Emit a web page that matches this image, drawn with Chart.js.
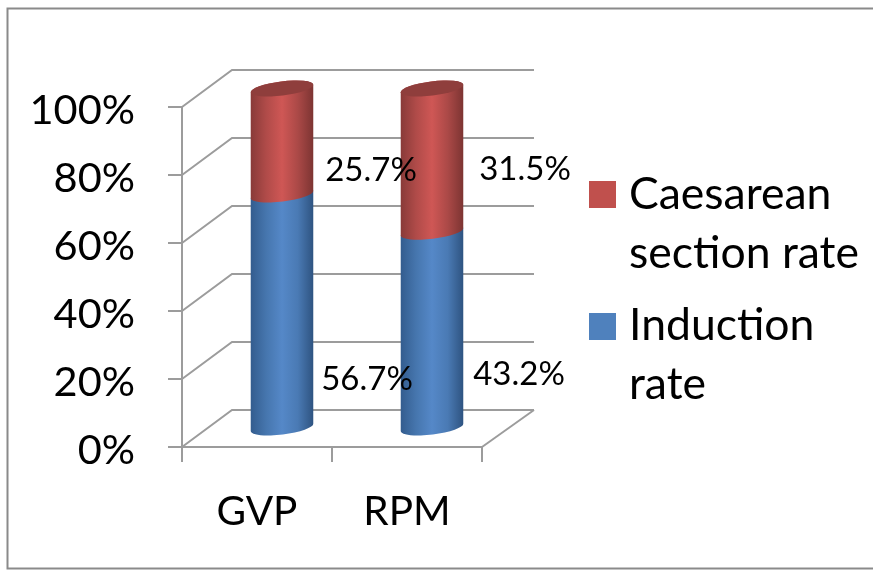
<!DOCTYPE html>
<html>
<head>
<meta charset="utf-8">
<script src="https://cdn.jsdelivr.net/npm/chart.js@4"></script>
<style>
  html, body { margin: 0; padding: 0; background: #fff; }
  #wrap { width: 873px; height: 570px; }
</style>
</head>
<body>
<div id="wrap"><canvas id="barChart"></canvas></div>
<script>
const categories = ['GVP', 'RPM']
const inductionRate = [56.7, 43.2]
const caesareanRate = [25.7, 31.5]
const yTicks = [0, 20, 40, 60, 80, 100]

// the chart is 100% stacked, so bar heights are each value's share of its column
const share = (a, b) => a.map((v, i) => v / (v + b[i]) * 100)

const FONT = 'Lato'
const DEPTH_X = 50
const DEPTH_Y = 37
const GRID = '#9c9c9c'

const blueStops = ['#335c8e', '#4676ae', '#5588c8', '#4a7ab4', '#2e5380']
const redStops = ['#883a38', '#b04b49', '#cf5755', '#ab4947', '#7c3432']

// bar centre -> label centre, the labels were placed by hand in the original
const labelOffsets = [
  [[110, 50], [112, 26]],
  [[114, 10], [118, -9]]
]

const legendRows = [
  { color: '#c0504d', lines: ['Caesarean', 'section rate'], box: 181, text: [195, 254] },
  { color: '#4f81bd', lines: ['Induction', 'rate'], box: 313, text: [326, 385] }
]

function cylinderGradient(ctx, x0, x1, stops) {
  const g = ctx.createLinearGradient(x0, 0, x1, 0)
  stops.forEach((c, i) => g.addColorStop(i / (stops.length - 1), c))
  return g
}

const cylinders = {
  id: 'cylinders',
  beforeDatasetsDraw(chart) {
    const { ctx, scales: { x, y } } = chart
    ctx.save()
    ctx.strokeStyle = GRID
    ctx.lineWidth = 2
    // side wall and back wall lines, one per y tick
    y.ticks.forEach(t => {
      const py = y.getPixelForValue(t.value)
      ctx.beginPath()
      ctx.moveTo(x.left, py)
      ctx.lineTo(x.left + DEPTH_X, py - DEPTH_Y)
      ctx.lineTo(x.right + DEPTH_X + 2, py - DEPTH_Y)
      ctx.stroke()
    })
    // floor edge on the right
    ctx.beginPath()
    ctx.moveTo(x.right, y.bottom)
    ctx.lineTo(x.right + DEPTH_X + 2, y.bottom - DEPTH_Y)
    ctx.stroke()
    ctx.restore()
  },
  afterDatasetsDraw(chart) {
    const { ctx } = chart
    const rot = -7 * Math.PI / 180
    const ry = 7
    chart.data.datasets.forEach((ds, d) => {
      chart.getDatasetMeta(d).data.forEach(bar => {
        const cx = bar.x + DEPTH_X / 2
        const rx = bar.width / 2
        const top = bar.y - DEPTH_Y / 2
        const bottom = bar.base - DEPTH_Y / 2
        ctx.save()
        ctx.fillStyle = cylinderGradient(ctx, cx - rx, cx + rx, ds.stops)
        ctx.beginPath()
        ctx.ellipse(cx, bottom, rx, ry, rot, Math.PI, 0, true)
        ctx.ellipse(cx, top, rx, ry, rot, 0, Math.PI, true)
        ctx.closePath()
        ctx.fill()
        if (d === chart.data.datasets.length - 1) {
          ctx.fillStyle = '#8f3e3c'
          ctx.beginPath()
          ctx.ellipse(cx, top, rx, ry, rot, 0, Math.PI * 2)
          ctx.fill()
        }
        ctx.restore()
      })
    })
  },
  afterDraw(chart) {
    const { ctx } = chart
    ctx.save()
    // outer frame, its right side is cut off by the picture edge
    ctx.strokeStyle = '#8a8a8a'
    ctx.lineWidth = 2
    ctx.strokeRect(7.5, 8.5, 880, 560)

    ctx.fillStyle = '#000'
    ctx.textAlign = 'center'
    ctx.textBaseline = 'middle'

    // value labels
    ctx.font = '33px ' + FONT
    chart.data.datasets.forEach((ds, d) => {
      chart.getDatasetMeta(d).data.forEach((bar, i) => {
        const off = labelOffsets[d][i]
        ctx.fillText(ds.raw[i].toFixed(1) + '%', bar.x + off[0], (bar.y + bar.base) / 2 + off[1])
      })
    })

    // legend
    ctx.textAlign = 'left'
    ctx.font = '44.5px ' + FONT
    legendRows.forEach(row => {
      ctx.fillStyle = row.color
      ctx.fillRect(589, row.box, 27, 27)
      ctx.fillStyle = '#000'
      row.lines.forEach((line, i) => ctx.fillText(line, 629, row.text[i]))
    })
    ctx.restore()
  }
}

new Chart(document.getElementById('barChart').getContext('2d'), {
  type: 'bar',
  data: {
    labels: categories,
    datasets: [
      {
        label: 'Induction rate',
        raw: inductionRate,
        stops: blueStops,
        data: share(inductionRate, caesareanRate),
        backgroundColor: 'transparent',
        barThickness: 63
      },
      {
        label: 'Caesarean section rate',
        raw: caesareanRate,
        stops: redStops,
        data: share(caesareanRate, inductionRate),
        backgroundColor: 'transparent',
        barThickness: 63
      }
    ]
  },
  options: {
    responsive: true,
    maintainAspectRatio: false,
    animation: false,
    layout: { padding: { left: 0, right: 391, top: 107, bottom: 0 } },
    plugins: { legend: { display: false }, tooltip: { enabled: false } },
    scales: {
      x: {
        stacked: true,
        afterFit(scale) { scale.height = 123 },
        border: { color: GRID, width: 2 },
        grid: { drawOnChartArea: false, color: GRID, lineWidth: 2, tickLength: 15 },
        ticks: { color: '#000', padding: 26, font: { family: FONT, size: 40.5 }, maxRotation: 0 }
      },
      y: {
        stacked: true,
        min: 0,
        max: 100,
        afterFit(scale) { scale.width = 182 },
        afterBuildTicks(scale) { scale.ticks = yTicks.map(value => ({ value })) },
        border: { color: GRID, width: 2 },
        grid: { drawOnChartArea: false, color: GRID, lineWidth: 2, tickLength: 14 },
        ticks: {
          color: '#000',
          padding: 33,
          labelOffset: 4,
          font: { family: FONT, size: 41.5 },
          callback: v => v + '%'
        }
      }
    }
  },
  plugins: [cylinders]
})
</script>
</body>
</html>
